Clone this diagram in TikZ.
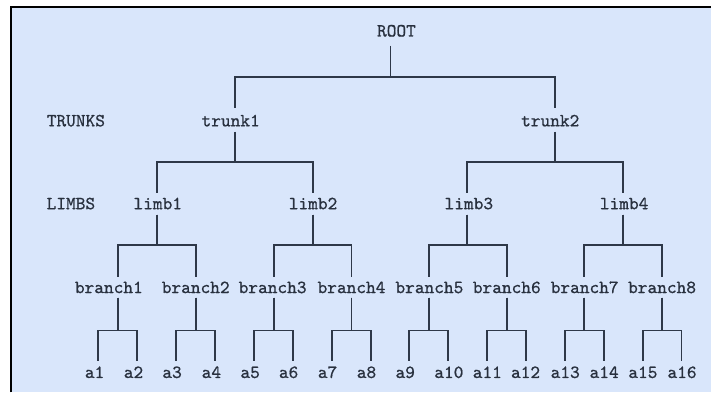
\documentclass[tikz,border=0pt]{standalone}
\usepackage{fontspec}
\newfontfamily\treefont{lmmono10-regular}[Extension=.otf, FakeBold=0.8]
\definecolor{panel}{RGB}{217,230,251}
\definecolor{ink}{RGB}{40,48,62}
\definecolor{wire}{RGB}{46,56,72}
\tikzset{
  lbl/.style={anchor=base, inner sep=0pt, text=ink,
    font=\treefont\fontsize{18.5}{20}\selectfont},
  conn/.style={draw=wire, line width=1.9pt, line join=miter}
}
\begin{document}
\begin{tikzpicture}[x=1pt, y=-1pt]
% canvas and frame
\fill[white] (0,0) rectangle (712,393);
\fill[panel] (11,7) rectangle (712,393);
\draw[black, line width=2pt] (11,393) -- (11,7) -- (712,7);
\useasboundingbox (0,0) rectangle (712,393);

% level captions
\node[lbl] (capT) at (76,126.5) {TRUNKS};
\node[lbl] (capL) at (71,209.5) {LIMBS};

% root
\node[lbl] (root) at (397,36.5) {ROOT};
\coordinate (root-bot) at (391,46);
\coordinate (root-bar) at (391,77);

% trunks: name / text x / line x
\foreach \n/\tx/\lx in {trunk1/231/235, trunk2/551/556}{
  \node[lbl] (\n) at (\tx,126.5) {\n};
  \coordinate (\n-top) at (\lx,108);
  \coordinate (\n-bot) at (\lx,132);
  \coordinate (\n-bar) at (\lx,162);
}

% limbs
\foreach \n/\tx/\lx in {limb1/158/157, limb2/313.5/313, limb3/469.5/468, limb4/625/624}{
  \node[lbl] (\n) at (\tx,209.5) {\n};
  \coordinate (\n-top) at (\lx,193);
  \coordinate (\n-bot) at (\lx,215);
  \coordinate (\n-bar) at (\lx,245);
}

% branches
\foreach \n/\tx/\lx in {branch1/109/118, branch2/196/196, branch3/273/274,
    branch4/352/352, branch5/430/429.5, branch6/507.5/507.5,
    branch7/585.5/585, branch8/663/663}{
  \node[lbl] (\n) at (\tx,293.5) {\n};
  \coordinate (\n-top) at (\lx,277);
  \coordinate (\n-bot) at (\lx,298);
  \coordinate (\n-bar) at (\lx,331);
}

% leaves
\foreach \n/\tx/\lx in {a1/94.7/98.5, a2/133.7/137.5, a3/172.3/176.5,
    a4/211.7/215.5, a5/250.5/254.5, a6/289/293.5, a7/328/332.5,
    a8/367/371.5, a9/405.8/410, a10/449.5/449, a11/488/488,
    a12/526.3/527, a13/566/565.5, a14/605/604.5, a15/643.8/643.5,
    a16/683/682.5}{
  \node[lbl] (\n) at (\tx,378.5) {\n};
  \coordinate (\n-top) at (\lx,362);
}

% elbow connectors: parent stub, bar, child stub
\foreach \p/\c in {root/trunk1, root/trunk2,
    trunk1/limb1, trunk1/limb2, trunk2/limb3, trunk2/limb4,
    limb1/branch1, limb1/branch2, limb2/branch3, limb2/branch4,
    limb3/branch5, limb3/branch6, limb4/branch7, limb4/branch8,
    branch1/a1, branch1/a2, branch2/a3, branch2/a4,
    branch3/a5, branch3/a6, branch4/a7, branch4/a8,
    branch5/a9, branch5/a10, branch6/a11, branch6/a12,
    branch7/a13, branch7/a14, branch8/a15, branch8/a16}{
  \draw[conn] (\p-bot) -- (\p-bar) -| (\c-top);
}
\end{tikzpicture}
\end{document}
